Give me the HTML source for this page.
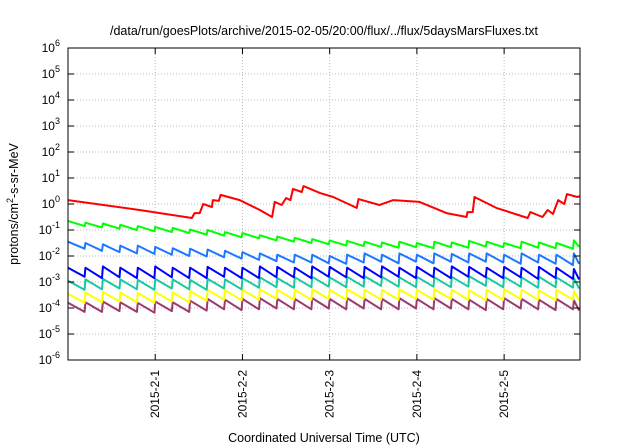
<!DOCTYPE html>
<html><head><meta charset="utf-8"><style>
body{margin:0;background:#fff;}
svg{display:block;font-family:"Liberation Sans",sans-serif;}
</style></head><body>
<svg id="chart" width="640" height="448" viewBox="0 0 640 448" xmlns="http://www.w3.org/2000/svg">
<rect width="640" height="448" fill="#fff"/>
<text x="324" y="35" font-size="12.5" text-anchor="middle">/data/run/goesPlots/archive/2015-02-05/20:00/flux/../flux/5daysMarsFluxes.txt</text>
<g id="grid"></g><g id="series"></g><g id="axes"></g>
<text x="324" y="442" font-size="12.5" text-anchor="middle">Coordinated Universal Time (UTC)</text>
<text transform="translate(18,204) rotate(-90)" font-size="12.5" text-anchor="middle">protons/cm<tspan baseline-shift="super" font-size="9">2</tspan>-s-sr-MeV</text>
</svg>
<script>
const xTickLabels=["2015-2-1","2015-2-2","2015-2-3","2015-2-4","2015-2-5"];
const xTickDays=[1,2,3,4,5];
const yTickExps=[-6,-5,-4,-3,-2,-1,0,1,2,3,4,5,6];
const redDays=[0,0.82,1.42,1.45,1.51,1.55,1.65,1.66,1.73,1.75,1.97,2.2,2.34,2.37,2.45,2.5,2.55,2.58,2.68,2.7,2.89,3.04,3.31,3.33,3.57,3.73,4.03,4.34,4.57,4.58,4.64,4.66,4.91,5.27,5.3,5.44,5.5,5.56,5.62,5.69,5.72,5.84,5.87];
const redLog=[0.15,-0.23,-0.54,-0.35,-0.35,0,-0.12,0.15,0.12,0.35,0.15,-0.23,-0.5,0.08,-0.04,0.23,0.15,0.58,0.46,0.69,0.42,0.27,-0.15,0.19,-0.04,0.15,0.08,-0.35,-0.5,-0.31,-0.31,0.27,-0.15,-0.54,-0.31,-0.5,-0.23,-0.38,0.15,0,0.38,0.27,0.3];
const toothDays=[0,0.2,0.4,0.6,0.8,1.0,1.2,1.4,1.6,1.8,2.0,2.2,2.4,2.6,2.8,3.0,3.2,3.4,3.6,3.8,4.0,4.2,4.4,4.6,4.8,5.0,5.2,5.4,5.6,5.8];
const greenPeaks=[-0.65,-0.72,-0.75,-0.8,-0.85,-0.88,-0.92,-0.98,-1.0,-1.08,-1.12,-1.2,-1.25,-1.3,-1.35,-1.4,-1.42,-1.45,-1.48,-1.45,-1.5,-1.45,-1.48,-1.42,-1.45,-1.5,-1.45,-1.48,-1.5,-1.4];
const greenTroughs=[-0.85,-0.9,-0.95,-1.0,-1.05,-1.08,-1.12,-1.18,-1.22,-1.28,-1.32,-1.4,-1.45,-1.5,-1.55,-1.6,-1.62,-1.65,-1.68,-1.66,-1.7,-1.66,-1.68,-1.64,-1.66,-1.7,-1.68,-1.7,-1.72,-1.65];
const bluePeaks=[-1.45,-1.5,-1.55,-1.6,-1.6,-1.65,-1.7,-1.72,-1.75,-1.8,-1.85,-1.9,-1.95,-1.95,-1.95,-2.0,-1.95,-1.9,-1.95,-1.9,-1.95,-1.9,-1.92,-1.9,-1.9,-1.95,-1.9,-1.95,-1.95,-1.9];
const blueTroughs=[-1.72,-1.8,-1.85,-1.9,-1.92,-1.95,-2.0,-2.02,-2.05,-2.1,-2.15,-2.2,-2.25,-2.25,-2.28,-2.3,-2.25,-2.22,-2.28,-2.22,-2.28,-2.22,-2.25,-2.22,-2.25,-2.3,-2.25,-2.3,-2.35,-2.3];
const dblPeaks=[-2.45,-2.45,-2.4,-2.45,-2.45,-2.4,-2.45,-2.45,-2.42,-2.45,-2.45,-2.4,-2.42,-2.45,-2.4,-2.42,-2.45,-2.42,-2.4,-2.45,-2.42,-2.45,-2.4,-2.42,-2.45,-2.42,-2.45,-2.42,-2.45,-2.5];
const dblTroughs=[-2.8,-2.85,-2.82,-2.85,-2.85,-2.82,-2.85,-2.85,-2.8,-2.85,-2.85,-2.82,-2.82,-2.85,-2.8,-2.82,-2.85,-2.82,-2.8,-2.85,-2.82,-2.85,-2.8,-2.82,-2.85,-2.82,-2.88,-2.85,-2.88,-2.9];
const tealPeaks=[-2.95,-2.9,-2.88,-2.9,-2.92,-2.88,-2.9,-2.92,-2.88,-2.9,-2.85,-2.82,-2.85,-2.82,-2.8,-2.82,-2.8,-2.78,-2.8,-2.82,-2.8,-2.82,-2.8,-2.78,-2.82,-2.8,-2.82,-2.8,-2.82,-2.85];
const tealTroughs=[-3.3,-3.28,-3.25,-3.28,-3.3,-3.25,-3.28,-3.3,-3.25,-3.28,-3.22,-3.2,-3.22,-3.2,-3.18,-3.2,-3.18,-3.15,-3.18,-3.2,-3.18,-3.2,-3.18,-3.15,-3.2,-3.18,-3.22,-3.2,-3.22,-3.25];
const yellowPeaks=[-3.45,-3.4,-3.38,-3.4,-3.42,-3.38,-3.4,-3.35,-3.3,-3.32,-3.3,-3.28,-3.3,-3.3,-3.28,-3.3,-3.28,-3.3,-3.3,-3.28,-3.3,-3.28,-3.3,-3.32,-3.3,-3.28,-3.3,-3.32,-3.3,-3.35];
const yellowTroughs=[-3.8,-3.78,-3.75,-3.78,-3.8,-3.75,-3.78,-3.72,-3.68,-3.7,-3.68,-3.65,-3.68,-3.68,-3.65,-3.68,-3.65,-3.68,-3.68,-3.65,-3.68,-3.65,-3.68,-3.7,-3.68,-3.65,-3.68,-3.7,-3.68,-3.7];
const purplePeaks=[-3.8,-3.78,-3.75,-3.78,-3.8,-3.75,-3.78,-3.72,-3.65,-3.68,-3.65,-3.62,-3.65,-3.65,-3.62,-3.65,-3.62,-3.65,-3.65,-3.62,-3.65,-3.62,-3.65,-3.68,-3.65,-3.62,-3.65,-3.68,-3.65,-3.7];
const purpleTroughs=[-4.15,-4.15,-4.12,-4.15,-4.18,-4.12,-4.15,-4.1,-4.05,-4.08,-4.05,-4.02,-4.05,-4.05,-4.02,-4.05,-4.02,-4.05,-4.05,-4.02,-4.05,-4.02,-4.05,-4.08,-4.05,-4.02,-4.05,-4.08,-4.05,-4.1];

const NS="http://www.w3.org/2000/svg";
const X0=68,X1=580,Y0=48,Y1=360,DMIN=0,DMAX=5.87,EMIN=-6,EMAX=6;
function xs(d){return X0+(d-DMIN)/(DMAX-DMIN)*(X1-X0);}
function ys(e){return Y1-(e-EMIN)/(EMAX-EMIN)*(Y1-Y0);}
function mk(tag,attrs,parent){const el=document.createElementNS(NS,tag);for(const k in attrs)el.setAttribute(k,attrs[k]);parent.appendChild(el);return el;}
const grid=document.getElementById('grid'),axes=document.getElementById('axes'),ser=document.getElementById('series');
yTickExps.forEach(e=>{
  const y=ys(e);
  if(e>EMIN&&e<EMAX){const g=mk('line',{x1:X0,x2:X1,y1:y,y2:y,stroke:'#bbb','stroke-dasharray':'1,2','stroke-width':1},grid);
  
  }
  mk('line',{x1:X0,x2:X0+6,y1:y,y2:y,stroke:'#000'},axes);
  mk('line',{x1:X1,x2:X1-6,y1:y,y2:y,stroke:'#000'},axes);
  const t=mk('text',{x:X0-8,y:y+4,'font-size':12,'text-anchor':'end'},axes);
  
  
  t.innerHTML='10<tspan dy="-6" font-size="9">'+e+'</tspan>';
});
xTickDays.forEach((d,i)=>{
  const x=xs(d);
  const g=mk('line',{x1:x,x2:x,y1:Y0,y2:Y1,stroke:'#bbb','stroke-dasharray':'1,2','stroke-width':1},grid);
  
  
  mk('line',{x1:x,x2:x,y1:Y1,y2:Y1-6,stroke:'#000'},axes);
  mk('line',{x1:x,x2:x,y1:Y0,y2:Y0+6,stroke:'#000'},axes);
  const t=mk('text',{transform:`translate(${x+4},${Y1+10}) rotate(-90)`,'font-size':12,'text-anchor':'end'},axes);
  
  
  t.textContent=xTickLabels[i];
});
const fr=mk('rect',{x:X0,y:Y0,width:X1-X0,height:Y1-Y0,fill:'none',stroke:'#000','stroke-width':1},axes);


function drawLine(days,vals,color,name){
  const d=days.map((t,i)=>(i?'L':'M')+xs(t).toFixed(1)+','+ys(vals[i]).toFixed(1)).join('');
  const p=mk('path',{d:d,fill:'none',stroke:color,'stroke-width':2,'stroke-linejoin':'round'},ser);
  
  
}
function drawSaw(peaks,troughs,color,name){
  const days=[],vals=[];
  toothDays.forEach((t,i)=>{
    const next=i+1<toothDays.length?toothDays[i+1]:DMAX;
    days.push(t);vals.push(peaks[i]);
    days.push(Math.min(next,DMAX)-0.01);vals.push(troughs[i]);
  });
  drawLine(days,vals,color,name);
}
drawSaw(purplePeaks,purpleTroughs,'#9b3a6e','series-purple');
drawSaw(yellowPeaks,yellowTroughs,'#ffff00','series-yellow');
drawSaw(tealPeaks,tealTroughs,'#19c8a0','series-teal');
drawSaw(dblPeaks,dblTroughs,'#0000ff','series-dark-blue');
drawSaw(bluePeaks,blueTroughs,'#1e78ff','series-light-blue');
drawSaw(greenPeaks,greenTroughs,'#00ff00','series-green');
drawLine(redDays,redLog,'#ff0000','series-red');
</script>
</body></html>
